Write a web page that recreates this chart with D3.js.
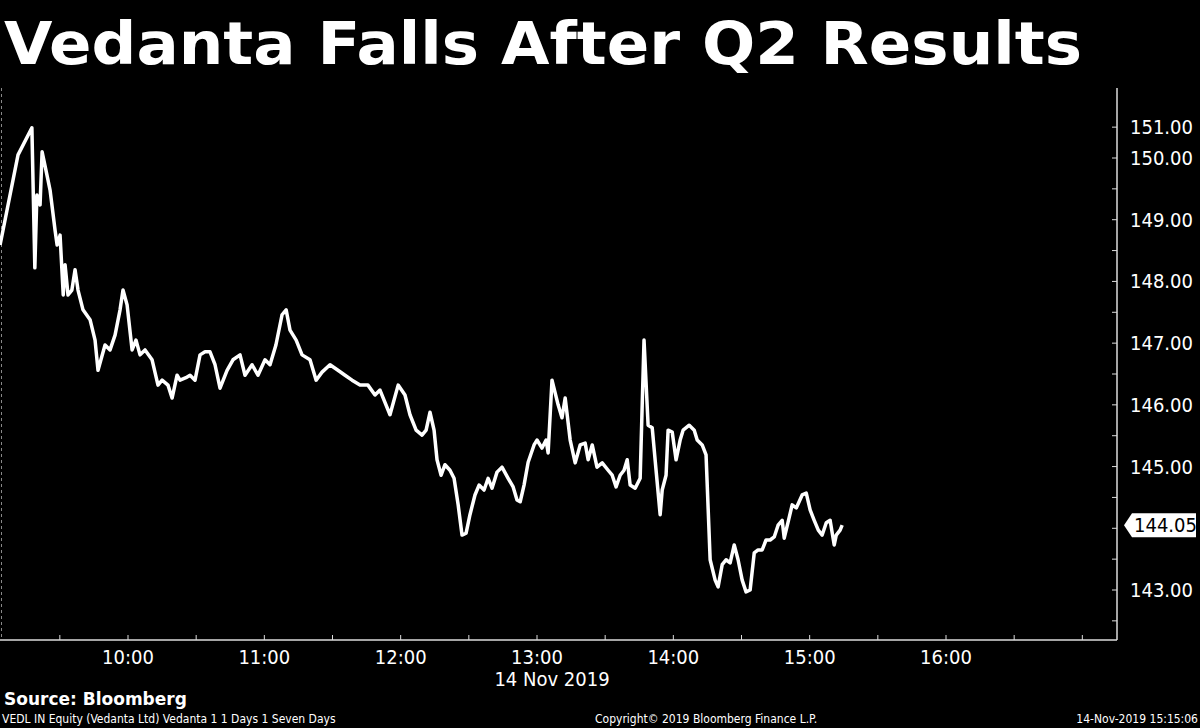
<!DOCTYPE html>
<html><head><meta charset="utf-8">
<script src="https://cdn.jsdelivr.net/npm/d3@7"></script>
<style>body{margin:0;background:#000;}svg{display:block;}</style>
</head><body><div id="chart"></div>
<script>
// minutes after 09:00 and price
var minutes = [3.7,11.6,17.7,19.0,19.9,21.3,22.2,24.8,25.7,27.9,28.8,30.1,31.5,32.3,33.6,35.3,36.7,38.0,40.2,43.3,45.5,46.8,49.9,52.1,54.3,56.5,57.8,59.6,61.8,63.5,65.3,67.5,70.6,73.2,75.0,77.6,79.4,81.6,82.9,85.5,87.3,89.5,91.7,93.9,96.1,98.3,100.5,103.6,106.2,109.3,111.5,114.6,117.2,120.3,122.5,125.1,127.8,129.6,131.3,134.0,136.6,140.1,142.8,145.4,148.9,152.4,155.5,158.6,162.1,165.6,168.7,170.9,175.3,178.9,181.9,184.1,186.8,189.4,191.2,192.9,194.7,196.0,197.8,199.5,201.7,203.5,205.3,207.0,208.8,210.5,212.7,214.5,216.7,218.5,220.2,222.4,224.6,227.3,229.5,231.2,232.6,234.3,236.1,238.7,240.0,242.2,244.0,244.9,246.6,249.3,251.0,252.4,254.6,256.8,259.0,261.2,262.5,264.3,266.4,268.7,271.3,273.1,274.8,276.6,278.3,279.7,281.0,283.2,285.4,287.1,288.9,290.7,292.4,294.2,295.1,296.8,297.7,299.5,301.2,303.0,304.3,307.0,309.2,310.5,312.7,314.4,316.2,318.4,319.7,321.5,323.2,325.0,326.8,328.5,330.3,332.0,333.8,335.6,337.3,339.1,340.8,342.6,344.4,346.1,347.9,348.8,350.5,352.3,354.1,356.7,358.5,360.2,362.0,363.8,365.5,367.3,369.0,370.8,371.7,373.4,374.3];
var prices = [148.59,150.05,150.49,148.22,149.40,149.24,150.10,149.64,149.48,148.83,148.59,148.75,147.78,148.27,147.78,147.86,148.19,147.86,147.54,147.38,147.05,146.56,146.97,146.89,147.13,147.54,147.86,147.62,146.89,147.05,146.81,146.89,146.73,146.32,146.40,146.32,146.11,146.48,146.40,146.44,146.48,146.40,146.81,146.86,146.86,146.65,146.27,146.56,146.73,146.81,146.48,146.65,146.48,146.73,146.65,146.97,147.46,147.54,147.21,147.05,146.81,146.73,146.40,146.53,146.65,146.56,146.48,146.40,146.32,146.32,146.16,146.24,145.84,146.32,146.16,145.84,145.59,145.51,145.59,145.88,145.59,145.11,144.86,145.03,144.94,144.81,144.38,143.89,143.92,144.22,144.54,144.70,144.62,144.81,144.65,144.91,144.99,144.81,144.67,144.46,144.43,144.70,145.07,145.35,145.43,145.30,145.43,145.22,146.40,146.00,145.79,146.11,145.43,145.06,145.35,145.38,145.11,145.35,144.99,145.06,144.94,144.86,144.67,144.86,144.94,145.11,144.70,144.65,144.81,147.05,145.67,145.63,144.94,144.22,144.62,144.86,145.59,145.56,145.11,145.43,145.59,145.67,145.59,145.43,145.35,145.19,143.49,143.16,143.05,143.41,143.49,143.44,143.73,143.49,143.16,142.97,143.00,143.60,143.65,143.65,143.81,143.81,143.86,144.05,144.13,143.84,144.10,144.38,144.33,144.54,144.57,144.30,144.13,143.97,143.89,144.09,144.13,143.73,143.89,143.97,144.05];
var hourTicks = [60,120,180,240,300,360,420];
var hourLabels = ["10:00","11:00","12:00","13:00","14:00","15:00","16:00"];
var priceTicks = [143,145,146,147,148,149,150]; // 144.00 is hidden by the last price tag
var lastPrice = 144.05;

var W = 1200, H = 728;
var plot = {left: 0, right: 1117, top: 88, bottom: 640};
var labelFont = "'Liberation Sans Narrow','DejaVu Sans Condensed',sans-serif";

var svg = d3.select("#chart").append("svg").attr("width", W).attr("height", H)
  .style("background", "#000");

var x = d3.scaleLinear().domain([60, 420]).range([128, 946]);
var y = d3.scaleLinear().domain([143, 150]).range([590, 158]);

svg.append("text").attr("x", 4).attr("y", 64)
  .attr("fill", "#fff").attr("font-family", "'DejaVu Sans',sans-serif")
  .attr("font-weight", "bold").attr("font-size", 58)
  .attr("textLength", 1078).attr("lengthAdjust", "spacingAndGlyphs")
  .text("Vedanta Falls After Q2 Results");

// frame
svg.append("line").attr("x1", 1.5).attr("x2", 1.5).attr("y1", plot.top).attr("y2", plot.bottom)
  .attr("stroke", "#888").attr("stroke-dasharray", "3,3");
svg.append("line").attr("x1", plot.right).attr("x2", plot.right).attr("y1", plot.top).attr("y2", plot.bottom)
  .attr("stroke", "#ddd").attr("stroke-width", 1.5);
svg.append("line").attr("x1", 0).attr("x2", plot.right).attr("y1", plot.bottom).attr("y2", plot.bottom)
  .attr("stroke", "#ddd").attr("stroke-width", 1.5);

// x minor ticks every 30 min
d3.range(-30, 481, 30).forEach(function(m) {
  var px = x(m);
  if (px < 2 || px > plot.right - 2) return;
  svg.append("line").attr("x1", px).attr("x2", px).attr("y1", plot.bottom).attr("y2", plot.bottom - 5)
    .attr("stroke", "#ddd");
});
svg.selectAll(".xl").data(hourTicks).enter().append("text")
  .attr("x", function(d) { return x(d); }).attr("y", 664)
  .attr("text-anchor", "middle").attr("fill", "#fff")
  .attr("font-family", labelFont).attr("font-size", 20)
  .text(function(d, i) { return hourLabels[i]; });
svg.append("text").attr("x", x(240) + 15).attr("y", 686).attr("text-anchor", "middle")
  .attr("fill", "#fff").attr("font-family", labelFont).attr("font-size", 20).text("14 Nov 2019");

// y ticks
d3.range(142.5, 150.6, 0.5).forEach(function(p) {
  var py = y(p);
  if (py < plot.top || py > plot.bottom) return;
  svg.append("line").attr("x1", plot.right).attr("x2", plot.right - 5).attr("y1", py).attr("y2", py)
    .attr("stroke", "#ddd");
});
svg.selectAll(".yl").data(priceTicks).enter().append("text")
  .attr("x", 1130).attr("y", function(d) { return y(d) + 7; })
  .attr("fill", "#fff").attr("font-family", labelFont).attr("font-size", 20)
  .text(function(d) { return d3.format(".2f")(d); });
svg.append("text").attr("x", 1130).attr("y", 134)
  .attr("fill", "#fff").attr("font-family", labelFont).attr("font-size", 20).text("151.00");

// last price tag
var ly = y(lastPrice);
svg.append("path")
  .attr("d", "M1124," + ly + "L1132," + (ly - 12) + "L1196," + (ly - 12) + "L1196," + (ly + 12) + "L1132," + (ly + 12) + "Z")
  .attr("fill", "#fff");
svg.append("text").attr("x", 1134).attr("y", ly + 7).attr("fill", "#000")
  .attr("font-family", labelFont).attr("font-size", 20).text(d3.format(".2f")(lastPrice));

// price line
var line = d3.line().x(function(d) { return x(d[0]); }).y(function(d) { return y(d[1]); });
svg.append("path").datum(d3.zip(minutes, prices)).attr("d", line)
  .attr("fill", "none").attr("stroke", "#fff").attr("stroke-width", 3.5).attr("stroke-linejoin", "round");

// footer
svg.append("text").attr("x", 4).attr("y", 705).attr("fill", "#fff")
  .attr("font-family", "'DejaVu Sans',sans-serif").attr("font-weight", "bold").attr("font-size", 17)
  .text("Source: Bloomberg");
svg.append("text").attr("x", 2).attr("y", 723).attr("fill", "#fff")
  .attr("font-family", labelFont).attr("font-size", 12)
  .text("VEDL IN Equity (Vedanta Ltd) Vedanta 1 1 Days 1 Seven Days");
svg.append("text").attr("x", 595).attr("y", 723).attr("fill", "#fff")
  .attr("font-family", labelFont).attr("font-size", 12)
  .text("Copyright\u00a9 2019 Bloomberg Finance L.P.");
svg.append("text").attr("x", 1198).attr("y", 723).attr("text-anchor", "end").attr("fill", "#fff")
  .attr("font-family", labelFont).attr("font-size", 12)
  .text("14-Nov-2019 15:15:06");
</script></body></html>
